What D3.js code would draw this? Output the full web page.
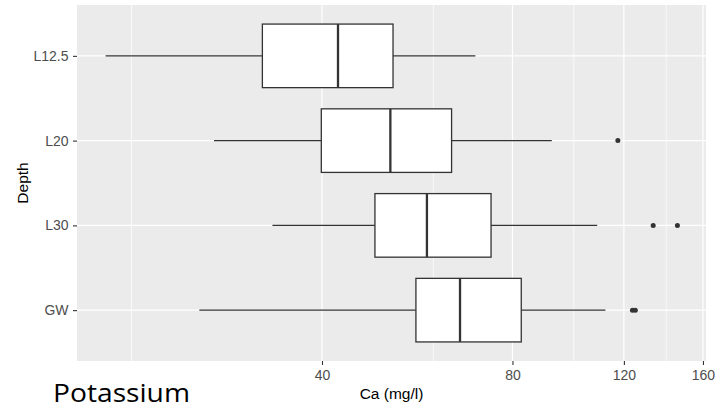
<!DOCTYPE html>
<html>
<head>
<meta charset="utf-8">
<script src="https://cdn.jsdelivr.net/npm/d3@7"></script>
<style>
  html, body { margin: 0; padding: 0; background: #ffffff; }
  svg { display: block; }
</style>
</head>
<body>
<svg id="chart" width="718" height="409"></svg>
<script>
// Box-plot summaries of Ca (mg/l) per sampling depth
const depths      = ["L12.5", "L20", "L30", "GW"];
const whiskerLow  = [18.2, 27.0, 33.4, 25.6];
const q1          = [32.2, 39.9, 48.5, 56.3];
const medians     = [42.4, 51.3, 58.6, 66.1];
const q3          = [51.8, 64.1, 74.0, 82.6];
const whiskerHigh = [69.9, 92.3, 108.9, 112.2];
const outliers    = [[], [117.4], [133.5, 145.8], [123.8, 125.1]];

const majorTicks = [40, 80, 120, 160];
const minorTicks = [20, 60, 100, 140];

const xTitle = "Ca (mg/l)";
const yTitle = "Depth";
const caption = "Potassium";

const rows = depths.map((d, i) => ({
  depth: d, lo: whiskerLow[i], q1: q1[i], med: medians[i], q3: q3[i],
  hi: whiskerHigh[i], out: outliers[i]
}));

const svg = d3.select("#chart");
const panel = { left: 77, top: 5, right: 706, bottom: 361 };

// log axis with 5% expansion on each side
const allVals = rows.flatMap(r => [r.lo, r.hi, ...r.out]);
const lmin = Math.log(d3.min(allVals)), lmax = Math.log(d3.max(allVals));
const pad = (lmax - lmin) * 0.05;
const x = d3.scaleLog()
  .domain([Math.exp(lmin - pad), Math.exp(lmax + pad)])
  .range([panel.left, panel.right]);

const y = d3.scalePoint()
  .domain(depths)
  .range([panel.top, panel.bottom])
  .padding(0.6);
const boxH = y.step() * 0.75;

// panel background
svg.append("rect")
  .attr("x", panel.left).attr("y", panel.top)
  .attr("width", panel.right - panel.left)
  .attr("height", panel.bottom - panel.top)
  .attr("fill", "#EBEBEB");

const grid = svg.append("g");
grid.selectAll("line.minor").data(minorTicks).join("line")
  .attr("class", "minor")
  .attr("x1", d => x(d)).attr("x2", d => x(d))
  .attr("y1", panel.top).attr("y2", panel.bottom)
  .attr("stroke", "#ffffff").attr("stroke-width", 0.7);
grid.selectAll("line.majorx").data(majorTicks).join("line")
  .attr("class", "majorx")
  .attr("x1", d => x(d)).attr("x2", d => x(d))
  .attr("y1", panel.top).attr("y2", panel.bottom)
  .attr("stroke", "#ffffff").attr("stroke-width", 1.2);
grid.selectAll("line.majory").data(depths).join("line")
  .attr("class", "majory")
  .attr("x1", panel.left).attr("x2", panel.right)
  .attr("y1", d => y(d)).attr("y2", d => y(d))
  .attr("stroke", "#ffffff").attr("stroke-width", 1.2);

// boxes, whiskers, medians and outliers
const ink = "#333333";
const lw = 1.3;
const g = svg.append("g").selectAll("g").data(rows).join("g");

g.append("line")
  .attr("x1", d => x(d.lo)).attr("x2", d => x(d.q1))
  .attr("y1", d => y(d.depth)).attr("y2", d => y(d.depth))
  .attr("stroke", ink).attr("stroke-width", lw);
g.append("line")
  .attr("x1", d => x(d.q3)).attr("x2", d => x(d.hi))
  .attr("y1", d => y(d.depth)).attr("y2", d => y(d.depth))
  .attr("stroke", ink).attr("stroke-width", lw);
g.append("rect")
  .attr("x", d => x(d.q1)).attr("width", d => x(d.q3) - x(d.q1))
  .attr("y", d => y(d.depth) - boxH / 2).attr("height", boxH)
  .attr("fill", "#ffffff").attr("stroke", ink).attr("stroke-width", lw);
g.append("line")
  .attr("x1", d => x(d.med)).attr("x2", d => x(d.med))
  .attr("y1", d => y(d.depth) - boxH / 2).attr("y2", d => y(d.depth) + boxH / 2)
  .attr("stroke", ink).attr("stroke-width", 2.3);
g.selectAll("circle").data(d => d.out.map(v => ({ v, depth: d.depth }))).join("circle")
  .attr("cx", d => x(d.v)).attr("cy", d => y(d.depth))
  .attr("r", 2.5).attr("fill", ink);

// axes
const font = "'Liberation Sans', Arial, sans-serif";
const xAxis = svg.append("g")
  .attr("transform", `translate(0,${panel.bottom})`)
  .call(d3.axisBottom(x).tickValues(majorTicks).tickFormat(d3.format("d"))
    .tickSize(4).tickPadding(5.5));
const yAxis = svg.append("g")
  .attr("transform", `translate(${panel.left},0)`)
  .call(d3.axisLeft(y).tickSize(4).tickPadding(4.5));

[xAxis, yAxis].forEach(a => {
  a.select(".domain").remove();
  a.selectAll(".tick line").attr("stroke", ink).attr("stroke-width", 1.1);
  a.selectAll(".tick text")
    .attr("fill", "#4D4D4D")
    .style("font-family", font)
    .style("font-size", "14px");
});

svg.append("text")
  .attr("x", (panel.left + panel.right) / 2).attr("y", 399)
  .attr("text-anchor", "middle")
  .style("font-family", font).style("font-size", "15.5px")
  .attr("fill", "#000000")
  .text(xTitle);

svg.append("text")
  .attr("transform", `translate(28,${(panel.top + panel.bottom) / 2}) rotate(-90)`)
  .attr("text-anchor", "middle")
  .style("font-family", font).style("font-size", "15.5px")
  .attr("fill", "#000000")
  .text(yTitle);

svg.append("text")
  .attr("x", 53).attr("y", 402)
  .attr("textLength", 137)
  .attr("lengthAdjust", "spacingAndGlyphs")
  .style("font-family", "'Open Sans', 'Noto Sans', sans-serif")
  .style("font-size", "26px")
  .attr("fill", "#000000")
  .text(caption);
</script>
</body>
</html>
